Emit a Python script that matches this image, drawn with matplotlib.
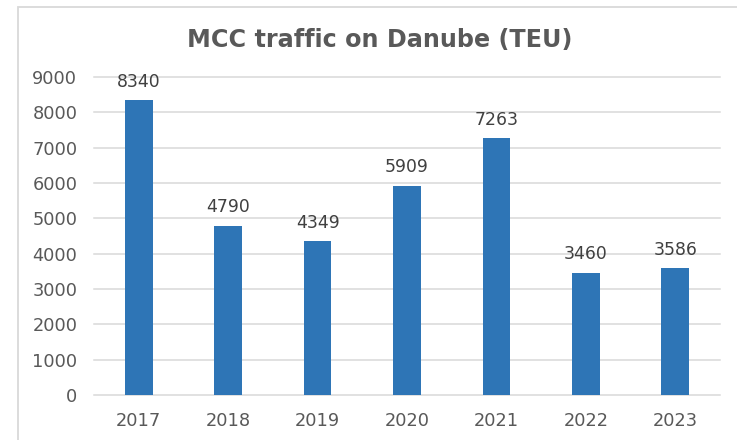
import matplotlib
matplotlib.use("Agg")
import matplotlib.pyplot as plt
from matplotlib.patches import Rectangle

plt.rcParams["font.family"] = ["DejaVu Sans"]

years = ["2017", "2018", "2019", "2020", "2021", "2022", "2023"]
teu = [8340, 4790, 4349, 5909, 7263, 3460, 3586]
yticks = [0, 1000, 2000, 3000, 4000, 5000, 6000, 7000, 8000, 9000]
title = "MCC traffic on Danube (TEU)"

W, H = 737, 440
fig = plt.figure(figsize=(W / 100, H / 100), dpi=100)
fig.patch.set_facecolor("white")

# chart border (partially cropped in the reference)
fig.patches.append(Rectangle((18 / W, -0.1), 1.2, (H - 7) / H + 0.1,
                             transform=fig.transFigure, fill=False,
                             edgecolor="#D9D9D9", linewidth=1.3))

ax = fig.add_axes([94 / W, 45 / H, (720 - 94) / W, (395 - 77) / H])
x = list(range(len(years)))
ax.bar(x, teu, width=0.31, color="#2E75B6", zorder=3)
ax.set_xlim(-0.5, len(years) - 0.5)
ax.set_ylim(0, 9000)
ax.set_yticks(yticks)
ax.set_xticks(x)
ax.set_xticklabels(years)
for yv in yticks:
    ax.axhline(yv, color="#D9D9D9", linewidth=1.1, zorder=0, clip_on=False)
for s in ax.spines.values():
    s.set_visible(False)
ax.tick_params(axis="both", length=0, labelsize=12.8, labelcolor="#595959")
ax.tick_params(axis="y", pad=12)
ax.tick_params(axis="x", pad=12)

for xi, v in zip(x, teu):
    ax.annotate(str(v), (xi, v), xytext=(0, 7), textcoords="offset points",
                ha="center", va="bottom", fontsize=12.4, color="#404040")

fig.text(380 / W, (H - 47) / H, title, ha="center", va="baseline",
         fontsize=17.2, fontweight="bold", color="#595959")

fig.savefig("out.png", dpi=100)
